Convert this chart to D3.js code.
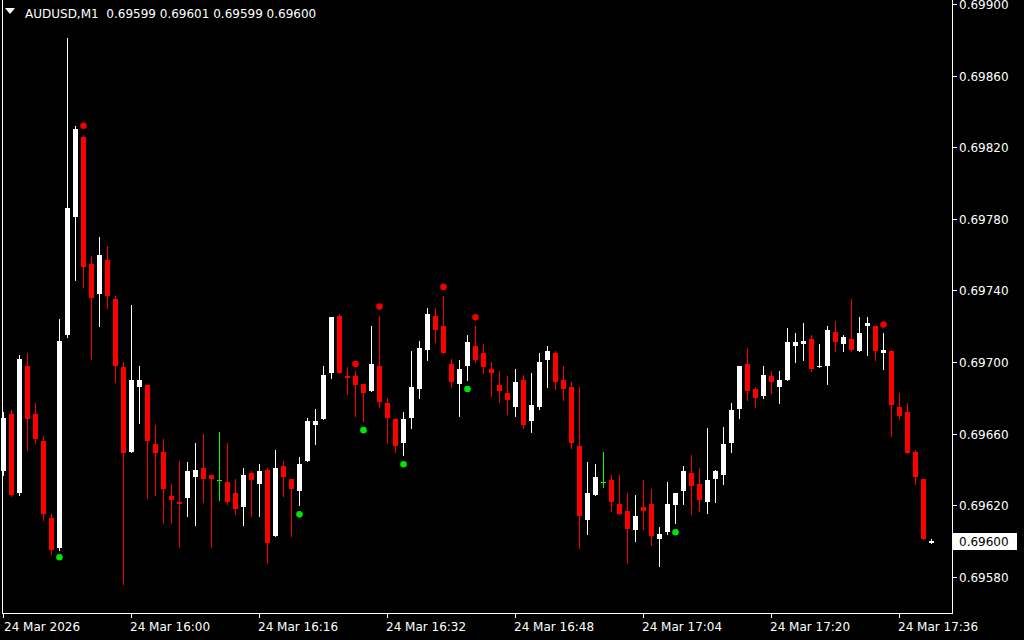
<!DOCTYPE html>
<html><head><meta charset="utf-8">
<script src="https://cdn.jsdelivr.net/npm/d3@7"></script>
<style>html,body{margin:0;padding:0;background:#000;}svg{display:block;}</style>
</head><body>
<svg id="c" width="1024" height="640"></svg>
<script>
const symbolText = "AUDUSD,M1";
const headerValues = ["0.69599", "0.69601", "0.69599", "0.69600"];
const timeLabels = ["24 Mar 2026","24 Mar 16:00","24 Mar 16:16","24 Mar 16:32","24 Mar 16:48","24 Mar 17:04","24 Mar 17:20","24 Mar 17:36"];
const timeLabelIdx = [0,16,32,48,64,80,96,112];
const priceTicks = [0.69580,0.69620,0.69660,0.69700,0.69740,0.69780,0.69820,0.69860,0.69900];
const lastPrice = 0.69600;

const opens = [.69639,.69671,.69627,.69698,.69671,.69656,.69613,.69596,.69715,.69781,
.69826,.69755,.69738,.69757,.69735,.69697,.69650,.69686,.69687,.69654,
.69650,.69625,.69622,.69624,.69636,.69641,.69637,.69634,.69633,.69627,
.69619,.69638,.69632,.69640,.69603,.69642,.69635,.69628,.69645,.69665,
.69668,.69694,.69726,.69692,.69692,.69688,.69684,.69698,.69677,.69668,
.69655,.69669,.69685,.69707,.69726,.69720,.69699,.69688,.69698,.69709,
.69705,.69696,.69687,.69683,.69675,.69690,.69667,.69675,.69701,.69705,
.69690,.69686,.69653,.69612,.69626,.69633,.69634,.69621,.69617,.69606,
.69619,.69621,.69601,.69605,.69620,.69628,.69638,.69632,.69622,.69635,
.69637,.69655,.69674,.69699,.69685,.69681,.69692,.69686,.69690,.69709,
.69710,.69713,.69697,.69698,.69717,.69710,.69713,.69706,.69720,.69720,
.69705,.69706,.69675,.69672,.69650,.69635,.69599];
const highs = [.69672,.69673,.69704,.69705,.69677,.69659,.69615,.69724,.69881,.69832,
.69827,.69759,.69770,.69765,.69737,.69700,.69732,.69698,.69687,.69665,
.69657,.69632,.69645,.69644,.69655,.69660,.69637,.69661,.69655,.69635,
.69641,.69639,.69643,.69641,.69651,.69645,.69635,.69647,.69669,.69674,
.69698,.69725,.69727,.69697,.69695,.69688,.69720,.69726,.69680,.69669,
.69672,.69706,.69712,.69730,.69730,.69737,.69702,.69701,.69715,.69720,
.69710,.69700,.69695,.69692,.69696,.69693,.69694,.69705,.69709,.69706,
.69698,.69689,.69686,.69644,.69643,.69650,.69637,.69637,.69627,.69626,
.69634,.69629,.69608,.69633,.69627,.69642,.69648,.69641,.69663,.69640,
.69664,.69677,.69698,.69708,.69686,.69698,.69695,.69695,.69719,.69716,
.69722,.69715,.69710,.69720,.69723,.69715,.69735,.69725,.69725,.69720,
.69716,.69707,.69683,.69677,.69651,.69635,.69601];
const lows = [.69637,.69625,.69626,.69651,.69655,.69612,.69593,.69595,.69714,.69746,
.69742,.69702,.69720,.69730,.69689,.69576,.69650,.69666,.69624,.69626,
.69610,.69610,.69597,.69614,.69609,.69622,.69597,.69623,.69621,.69615,
.69609,.69614,.69614,.69588,.69603,.69625,.69603,.69620,.69645,.69654,
.69668,.69691,.69694,.69682,.69670,.69667,.69684,.69675,.69655,.69650,
.69648,.69663,.69680,.69701,.69711,.69705,.69686,.69670,.69690,.69700,
.69694,.69681,.69678,.69671,.69670,.69663,.69661,.69674,.69686,.69685,
.69679,.69652,.69596,.69604,.69626,.69630,.69617,.69615,.69588,.69600,
.69607,.69598,.69586,.69604,.69610,.69621,.69615,.69617,.69616,.69622,
.69632,.69650,.69669,.69679,.69675,.69680,.69683,.69677,.69690,.69700,
.69701,.69695,.69697,.69688,.69706,.69706,.69706,.69706,.69704,.69701,
.69696,.69659,.69668,.69649,.69632,.69601,.69599];
const closes = [.69669,.69626,.69702,.69668,.69657,.69615,.69595,.69712,.69786,.69830,
.69753,.69736,.69760,.69737,.69698,.69649,.69690,.69690,.69656,.69649,
.69629,.69623,.69621,.69639,.69640,.69635,.69635,.69634,.69622,.69618,
.69637,.69634,.69639,.69599,.69641,.69636,.69629,.69643,.69667,.69667,
.69693,.69725,.69694,.69691,.69687,.69683,.69699,.69678,.69669,.69653,
.69668,.69686,.69708,.69727,.69718,.69705,.69689,.69696,.69711,.69701,
.69697,.69694,.69684,.69679,.69689,.69665,.69676,.69700,.69706,.69689,
.69685,.69655,.69614,.69627,.69636,.69633,.69622,.69615,.69607,.69614,
.69617,.69603,.69604,.69621,.69627,.69639,.69631,.69623,.69634,.69639,
.69654,.69673,.69698,.69684,.69680,.69693,.69689,.69690,.69711,.69711,
.69712,.69696,.69698,.69718,.69711,.69714,.69707,.69716,.69722,.69706,
.69707,.69676,.69670,.69649,.69636,.69601,.69600];

const redDotIdx = [10,44,47,55,59,110];
const redDotVal = [.69832,.69699,.69731,.69742,.69725,.69721];
const greenDotIdx = [7,37,45,50,58,84];
const greenDotVal = [.69591,.69615,.69662,.69643,.69685,.69605];

const svg = d3.select("#c");
const font = "DejaVu Sans";
const plotRight = 952, plotBottom = 613;

const x = d3.scaleLinear().domain([0, 116]).range([3, 931]);
const y = d3.scaleLinear().domain([0.69580, 0.69900]).range([577, 4]);

svg.append("rect").attr("width",1024).attr("height",640).attr("fill","#000");

const plot = svg.append("g");
const candles = opens.map((o,i)=>({i,o,h:highs[i],l:lows[i],c:closes[i]}));
const col = d => d.c > d.o ? "#ffffff" : (d.c < d.o ? "#ff0000" : "#00ff00");

// wicks
plot.selectAll("line.w").data(candles).join("line")
  .attr("x1", d=>Math.round(x(d.i))+0.5).attr("x2", d=>Math.round(x(d.i))+0.5)
  .attr("y1", d=>Math.round(y(d.h))).attr("y2", d=>Math.round(y(d.l))+1)
  .attr("stroke", col).attr("stroke-width",1).attr("shape-rendering","crispEdges");
// bodies
plot.selectAll("rect.b").data(candles).join("rect")
  .attr("x", d=>Math.round(x(d.i))-2).attr("width",5)
  .attr("y", d=>Math.round(y(Math.max(d.o,d.c))))
  .attr("height", d=>Math.max(1, Math.round(y(Math.min(d.o,d.c))) - Math.round(y(Math.max(d.o,d.c)))))
  .attr("fill", col).attr("shape-rendering","crispEdges");

// signal dots
plot.selectAll("circle.r").data(redDotIdx).join("circle")
  .attr("cx", (d)=>x(d)+0.5).attr("cy",(d,k)=>y(redDotVal[k])).attr("r",3.3).attr("fill","#f00000");
plot.selectAll("circle.g").data(greenDotIdx).join("circle")
  .attr("cx", (d)=>x(d)+0.5).attr("cy",(d,k)=>y(greenDotVal[k])).attr("r",3.3).attr("fill","#00e600");

// frame
svg.append("line").attr("x1",2.5).attr("x2",2.5).attr("y1",0).attr("y2",plotBottom).attr("stroke","#fff");
svg.append("line").attr("x1",plotRight+0.5).attr("x2",plotRight+0.5).attr("y1",0).attr("y2",plotBottom+1).attr("stroke","#fff");
svg.append("line").attr("x1",2).attr("x2",plotRight+1).attr("y1",plotBottom+0.5).attr("y2",plotBottom+0.5).attr("stroke","#fff");

// price axis
const ya = svg.append("g");
priceTicks.forEach(p=>{
  const yy = Math.round(y(p));
  ya.append("line").attr("x1",plotRight+1).attr("x2",plotRight+5).attr("y1",yy+0.5).attr("y2",yy+0.5).attr("stroke","#fff");
  ya.append("text").attr("x",959).attr("y",yy+4.5).attr("fill","#fff")
    .attr("font-family",font).attr("font-size",12).text(p.toFixed(5));
});
// current price label
const ly = Math.round(y(lastPrice));
svg.append("rect").attr("x",953).attr("y",ly-8).attr("width",64).attr("height",17).attr("fill","#fff");
svg.append("text").attr("x",959).attr("y",ly+4.5).attr("fill","#000")
  .attr("font-family",font).attr("font-size",12).text(lastPrice.toFixed(5));

// time axis
timeLabelIdx.forEach((idx,k)=>{
  const xx = Math.round(x(idx));
  svg.append("line").attr("x1",xx+0.5).attr("x2",xx+0.5).attr("y1",plotBottom+1).attr("y2",plotBottom+5).attr("stroke","#fff");
  svg.append("text").attr("x",xx+ (k===0?1:-1)).attr("y",631).attr("fill","#fff")
    .attr("font-family",font).attr("font-size",12).text(timeLabels[k]);
});

// header
svg.append("path").attr("d","M5,8 L15,8 L10,14 Z").attr("fill","#fff");
svg.append("text").attr("x",25).attr("y",18).attr("fill","#fff").attr("font-family",font).attr("font-size",12)
  .attr("xml:space","preserve").style("white-space","pre")
  .text(symbolText + "  " + headerValues.join(" "));
</script>
</body></html>
